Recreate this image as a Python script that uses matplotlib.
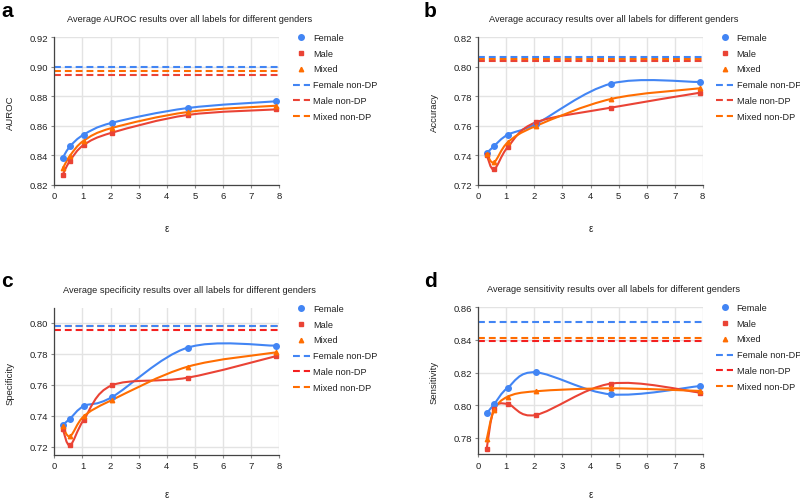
import numpy as np
import matplotlib
matplotlib.use("Agg")
import matplotlib.pyplot as plt
from matplotlib.path import Path
from matplotlib.patches import PathPatch
from matplotlib.lines import Line2D

plt.rcParams['font.family'] = ['Liberation Sans', 'DejaVu Sans']

# privacy budgets
eps = [0.3, 0.56, 1.05, 2.05, 4.74, 7.9]

# AUROC
auroc_f = [0.8383, 0.846, 0.854, 0.862, 0.872, 0.8766]
auroc_m = [0.8268, 0.8363, 0.847, 0.8553, 0.8673, 0.8711]
auroc_x = [0.831, 0.8397, 0.8499, 0.8585, 0.8693, 0.8736]
auroc_nodp = [0.9001, 0.8944, 0.8971]

# accuracy
acc_f = [0.7413, 0.7462, 0.7539, 0.7612, 0.7886, 0.7897]
acc_m = [0.7401, 0.7304, 0.7455, 0.7623, 0.7723, 0.7824]
acc_x = [0.7408, 0.7352, 0.7487, 0.7598, 0.7782, 0.7854]
acc_nodp = [0.8064, 0.8037, 0.8051]

# specificity
spec_f = [0.734, 0.7381, 0.7462, 0.752, 0.7839, 0.7852]
spec_m = [0.7314, 0.7209, 0.7374, 0.7596, 0.7645, 0.7785]
spec_x = [0.7331, 0.7267, 0.7396, 0.7501, 0.7716, 0.7809]
spec_nodp = [0.7981, 0.7955, 0.7976]

# sensitivity
sens_f = [0.7951, 0.8006, 0.8108, 0.8202, 0.8067, 0.8118]
sens_m = [0.7735, 0.7976, 0.8008, 0.7941, 0.8133, 0.8078]
sens_x = [0.7792, 0.7969, 0.8053, 0.8086, 0.8104, 0.8088]
sens_nodp = [0.8512, 0.8396, 0.8414]

names = ["Female", "Male", "Mixed"]
blue, red, orange = "#4285F4", "#EA4335", "#FF6D01"

W, H = 800, 502
fig = plt.figure(figsize=(W/100, H/100), dpi=100)

def px(x, y):
    return x/W, 1 - y/H

def smooth(ax, x, y, c):
    # smooth curve through the points (bezier segments, like the original chart)
    pts = np.column_stack([x, y])
    n = len(pts)
    verts = [pts[0]]
    codes = [Path.MOVETO]
    for i in range(n-1):
        p0 = pts[max(i-1, 0)]; p1 = pts[i]; p2 = pts[i+1]; p3 = pts[min(i+2, n-1)]
        verts += [p1 + (p2-p0)/6, p2 - (p3-p1)/6, p2]
        codes += [Path.CURVE4]*3
    ax.add_patch(PathPatch(Path(verts, codes), fc="none", ec=c, lw=1.5, zorder=3))

panels = [
    # letter, metric, ylabel, data, nodp, rect px (l, t, r, b), ylim, yticks, letter pos, male non-DP colour
    ("a", "AUROC", "AUROC", (auroc_f, auroc_m, auroc_x), auroc_nodp,
     (54.3, 38.3, 279.3, 185.7), (0.82, 0.92), np.arange(0.82, 0.921, 0.02), 0, 0, red),
    ("b", "accuracy", "Accuracy", (acc_f, acc_m, acc_x), acc_nodp,
     (478.3, 38.3, 702.7, 185.7), (0.72, 0.82), np.arange(0.72, 0.821, 0.02), 423, 0, red),
    ("c", "specificity", "Specificity", (spec_f, spec_m, spec_x), spec_nodp,
     (54.3, 309.3, 279.3, 455.7), (0.7148, 0.8093), np.arange(0.72, 0.801, 0.02), 0, 270, "#F42020"),
    ("d", "sensitivity", "Sensitivity", (sens_f, sens_m, sens_x), sens_nodp,
     (478.3, 308.3, 702.7, 455.0), (0.7702, 0.86), np.arange(0.78, 0.861, 0.02), 423, 270, "#F42020"),
]

for letter, metric, ylab, series, nodp, rect, ylim, yt, lx, ly, mred in panels:
    l, t, r, b = rect
    ax = fig.add_axes([l/W, 1-b/H, (r-l)/W, (b-t)/H])
    ax.set_xlim(0, 8)
    ax.set_ylim(*ylim)
    ax.set_xticks(range(9))
    ax.set_yticks(yt)
    ax.set_yticklabels([f"{v:.2f}" for v in yt])
    ax.grid(True, color="#e3e3e3", lw=1.0, zorder=0)
    for s in ["top", "right"]:
        ax.spines[s].set_visible(False)
    for s in ["left", "bottom"]:
        ax.spines[s].set_color("#444444")
        ax.spines[s].set_linewidth(0.9)
    ax.tick_params(length=2.2, width=0.8, color="#888888", labelsize=6.8,
                   labelcolor="#222222", pad=2.5)
    ax.set_axisbelow(True)

    cols = [blue, red, orange]
    mk = ["o", "s", "^"]
    ms = [4.0, 3.0, 3.2]
    for vals, c, m, s in zip(series, cols, mk, ms):
        smooth(ax, eps, vals, c)
        ax.plot(eps, vals, ls="none", marker=m, ms=s, color=c, zorder=4)
    ncols = [blue, mred, orange]
    for k in [1, 2, 0]:
        ax.axhline(nodp[k], color=ncols[k], lw=1.5, dashes=(3.3, 1.9), zorder=2)

    # panel letter, title, axis labels
    fig.text(*px(lx + 1, ly + 17), letter, fontsize=15, fontweight="bold", va="baseline", ha="left")
    cx = (l + r) / 2 + 23
    fig.text(*px(cx, t - 19), f"Average {metric} results over all labels for different genders",
             fontsize=6.65, ha="center", va="center", color="#222222")
    fig.text(*px(l - 44, (t + b) / 2 + 1), ylab, rotation=90, fontsize=6.8,
             ha="center", va="center", color="#222222")
    fig.text(*px((l + r) / 2, min(b + 43, 495)), "\u03b5",
             fontsize=7, ha="center", va="center", color="#222222")

    # legend
    mx = r + 22
    rows = [t + k * 15.75 for k in range(6)]
    for k in range(3):
        fig.add_artist(Line2D([mx / W], [1 - rows[k] / H], marker=mk[k], ms=ms[k],
                              color=cols[k], ls="none"))
        fig.text(*px(mx + 12, rows[k]), names[k], fontsize=6.6, va="center", color="#222222")
    for k in range(3):
        y = 1 - rows[k + 3] / H
        fig.add_artist(Line2D([(mx - 8.5) / W, (mx + 8.5) / W], [y, y], color=ncols[k],
                              lw=1.5, dashes=(3.3, 1.9)))
        fig.text(*px(mx + 12, rows[k + 3]), names[k] + " non-DP", fontsize=6.6,
                 va="center", color="#222222")

fig.savefig("out.png", dpi=100)
